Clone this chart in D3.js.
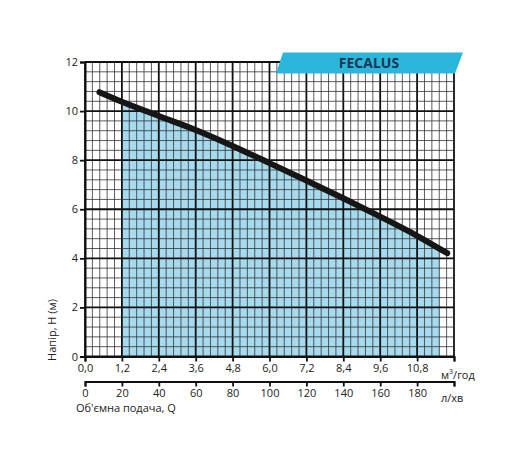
<!DOCTYPE html>
<html>
<head>
<meta charset="utf-8">
<script src="https://cdn.jsdelivr.net/npm/d3@7"></script>
<style>
  body { margin: 0; background: #fff; }
  text { font-family: "Open Sans", sans-serif; fill: #222; }
</style>
</head>
<body>
<svg width="512" height="461"></svg>
<script>
// pump curve, Q in m3/h, H in m
var flowM3h = [0.47, 1.2, 2.4, 3.6, 4.8, 6.0, 7.2, 8.4, 9.6, 10.8, 11.78];
var headM   = [10.77, 10.38, 9.80, 9.23, 8.58, 7.88, 7.17, 6.45, 5.70, 4.92, 4.21];
var fillRange = [1.2, 11.55];

var xTicks = [0, 1.2, 2.4, 3.6, 4.8, 6.0, 7.2, 8.4, 9.6, 10.8];
var lpmTicks = [0, 20, 40, 60, 80, 100, 120, 140, 160, 180];
var yTicks = [0, 2, 4, 6, 8, 10, 12];

var svg = d3.select("svg"),
    plotLeft = 85, plotRight = 454, plotTop = 62, plotBottom = 356.5;

var x = d3.scaleLinear().domain([0, 12]).range([plotLeft, plotRight]);
var y = d3.scaleLinear().domain([0, 12]).range([plotBottom, plotTop]);
// l/min on the same pixels: 1 m3/h = 1000/60 l/min
var xl = d3.scaleLinear().domain([0, 200]).range([plotLeft, plotRight]);

var pts = flowM3h.map(function(q, i) { return [q, headM[i]]; });

// fill under curve
svg.append("clipPath").attr("id", "fillclip")
  .append("rect")
    .attr("x", x(fillRange[0])).attr("y", plotTop)
    .attr("width", x(fillRange[1]) - x(fillRange[0]))
    .attr("height", plotBottom - plotTop);

var area = d3.area()
    .x(function(d) { return x(d[0]); })
    .y0(y(0))
    .y1(function(d) { return y(d[1]); })
    .curve(d3.curveMonotoneX);

svg.append("path")
    .datum(pts)
    .attr("clip-path", "url(#fillclip)")
    .attr("fill", "#a6daee")
    .attr("d", area);

// grid
var g = svg.append("g");
g.selectAll(".vmin").data(d3.range(0, 51)).enter().append("line")
    .attr("x1", function(i) { return x(i * 0.24); })
    .attr("x2", function(i) { return x(i * 0.24); })
    .attr("y1", y(0)).attr("y2", y(12))
    .attr("stroke", function(i) { return i % 5 ? "#333" : "#111"; })
    .attr("stroke-width", function(i) { return i % 5 ? 0.8 : 1.8; });

g.selectAll(".hmin").data(d3.range(0, 31)).enter().append("line")
    .attr("y1", function(i) { return y(i * 0.4); })
    .attr("y2", function(i) { return y(i * 0.4); })
    .attr("x1", x(0)).attr("x2", x(12))
    .attr("stroke", function(i) { return i % 5 ? "#333" : "#111"; })
    .attr("stroke-width", function(i) { return i % 5 ? 0.8 : 1.8; });

// axes
var fmt = function(d) { return d3.format(".1f")(d).replace(".", ","); };

var xAxis = svg.append("g")
    .attr("transform", "translate(0," + y(0) + ")")
    .call(d3.axisBottom(x).tickValues(xTicks.concat([12])).tickSize(5).tickPadding(3)
      .tickFormat(function(d) { return d === 12 ? "" : fmt(d); }));

var lAxis = svg.append("g")
    .attr("transform", "translate(0,381.5)")
    .call(d3.axisBottom(xl).tickValues(lpmTicks.concat([200])).tickSize(5).tickPadding(3)
      .tickFormat(function(d) { return d === 200 ? "" : d; }));

var yAxis = svg.append("g")
    .attr("transform", "translate(" + x(0) + ",0)")
    .call(d3.axisLeft(y).tickValues(yTicks).tickSize(5).tickPadding(2));

[xAxis, lAxis, yAxis].forEach(function(a) {
  a.select(".domain").attr("stroke", "#111").attr("stroke-width", 2);
  a.selectAll(".tick line").attr("stroke", "#111").attr("stroke-width", 1.8);
  a.selectAll(".tick text").style("font-size", "11px").attr("fill", "#222");
});

// pump curve
var line = d3.line()
    .x(function(d) { return x(d[0]); })
    .y(function(d) { return y(d[1]); })
    .curve(d3.curveMonotoneX);

svg.append("path")
    .datum(pts)
    .attr("fill", "none")
    .attr("stroke", "#161616")
    .attr("stroke-width", 6)
    .attr("stroke-linecap", "round")
    .attr("d", line);

// unit labels
var u = svg.append("text").attr("x", 441).attr("y", 379).style("font-size", "11px");
u.append("tspan").text("м");
u.append("tspan").attr("dy", -5).style("font-size", "7px").text("3");
u.append("tspan").attr("dy", 5).text("/год");

svg.append("text").attr("x", 441).attr("y", 402).style("font-size", "11px").text("л/хв");

svg.append("text").attr("x", 76).attr("y", 412).style("font-size", "11px")
    .text("Об'ємна подача, Q");

svg.append("text")
    .attr("transform", "translate(56,330) rotate(-90)")
    .attr("text-anchor", "middle")
    .style("font-size", "11px")
    .text("Напір, H (м)");

// model banner
svg.append("polygon")
    .attr("points", "283,52.5 463,52.5 455,73.5 276,73.5")
    .attr("fill", "#2bb6dc");
svg.append("text")
    .attr("x", 369).attr("y", 68)
    .attr("text-anchor", "middle")
    .style("font-size", "14px").style("font-weight", "bold")
    .style("fill", "#1b3550")
    .text("FECALUS");
</script>
</body>
</html>
